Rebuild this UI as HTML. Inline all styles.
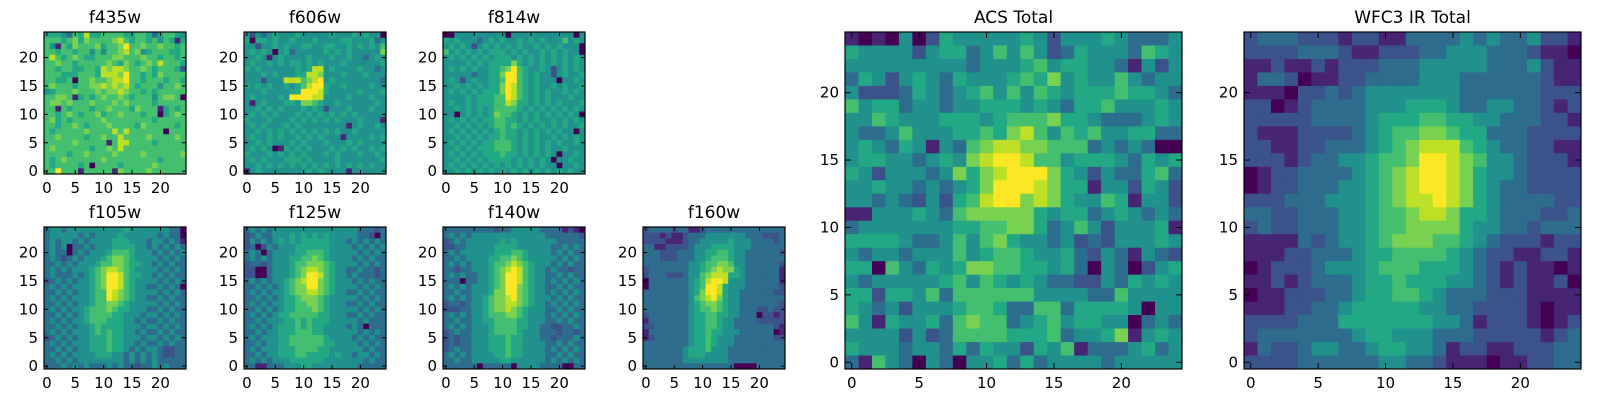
<!DOCTYPE html>
<html><head><meta charset="utf-8">
<style>
html,body{margin:0;padding:0;background:#fff;}
svg{display:block;font-family:"DejaVu Sans","Liberation Sans",sans-serif;}
</style></head>
<body>
<svg id="fig" width="1600" height="400" viewBox="0 0 1600 400" xmlns="http://www.w3.org/2000/svg"></svg>
<script>
// Data: rows listed from top (y=24) to bottom (y=0), each digit = intensity level 0..9
const f435w = [
"5554365855666655665356654","6665675766667865665646515","6416576667566796676676656","6656656646466786745666556",
"6865676556667766676656656","6676656666676576567686665","6656655665878876676566652","6665556665888796656576666",
"6655606676678896656665665","6766656677878786566646676","4566676667677876656566666","6677615656766765666467760",
"6776766676667676666566666","6616566656676665766615656","6656765667566766656605676","6756566666766666666566666",
"6656676566676666576666656","6566666766668686666660666","6676666566766866667666676","6666676666616886666566666",
"6766666656676866666666666","6666566766667666676666667","6567666666766666666656666","6566665606666566666766666",
"6696661666661766667666666"];
const f606w = [
"4243454445444445444545440","5055454454445444455444534","4424454544554455445454546","4545404534444454545444447",
"4454145444454445445443454","4544545455454544454444445","5454444445458845444454434","4445454445588744454445444",
"4442444888678945444444443","5454544545689954454444544","4445444455999854444454445","4544445499998844445444544",
"4145444554776544544444454","4454545444545424445444544","4545454445454545454544444","5444544454545454544454441",
"4545444545444444441454454","4454545454545454544544444","4544545445454544414444545","4454544454544454445454444",
"4545401545454445454544545","5444545454544454544454454","4545444555454444544444445","4454545454545454545454544",
"1454444444454544441444444"];
const f814w = [
"0044444444404444444444404","5454443454544545454446454","4545424545454544545454440","6454545455545454454545440",
"4545454545554545454545454","4444545455557545454545454","4545454455679654454245454","4444434455799654544245445",
"4542454455699654544404454","4454545455798654544545445","4545454555798654545445454","4444545556698654545444544",
"4544545556687554545454445","4454545456666545454545454","4404545457665454545454540","4545454556655454544545454",
"4454545456656545454545445","4545454545655454545454404","4454545455655454544545454","4545454556665454545454454",
"4454545556665454545445444","4545454555655454545404454","4454545455554545454044544","4545454545454545454404454",
"4454545454545454545454544"];
const f105w = [
"3443444444444454444444330","3444443434444544444434330","3434434344445554443443431","3434033434445555443434343",
"3433034344456665444343434","3432343444567765444434343","3343434445667765544343433","3434344456788765444434343",
"3433343456799865544343433","2343434456799865444434343","3434344456799865443343430","3343434456698765444434343",
"3434344456698765443343433","3343434456677654444434343","3434344566676554443343433","3343434566665544434434343",
"3434344566655544343343433","3343434456555544434434343","3434344456565544343343433","2343434455565544434434343",
"3434344455565544343343433","3343434455565543434432233","3434344445554434343432233","3343434444444434343433333",
"3334343433343433233434333"];
const f125w = [
"3434344444444444444433323","2343344454545454444433203","2434345454555554443434343","2302434445555554444343434",
"3430344445566654444434343","3434344455667654444343433","2332344456677765444434343","2200344456788765443343323",
"2200344456799865443433323","3434344567899765444343433","3343434567799765444434343","3434344567788765443343433",
"3343434556777654444434343","3434344556677654443343433","3343434556667654444434343","3434345566666554443343433",
"3343444556565554444434333","3434345556565544443430333","3343445556665544444434343","3434445566666654444343433",
"3343445566666655444434343","3434445556666554444443433","3343445556655554544344343","3434344455555544444443433",
"3311333444554444444433333"];
const f140w = [
"3333333332334444433331210","3434344444444444443333332","2343444444545444444433333","2233444445555444444334343",
"3434444445556654444343433","3343444455667654444434343","3434344456678765444343433","3323344456789865443433233",
"3434334456799865443343433","3330334456799865443434343","3434344456799765443343433","3343344457799765443434343",
"3434344567789765444343433","2332344567788765443434343","2223344567787654443343433","3434344566677654443434343",
"3343344556666554443343433","3434344456666554433223343","2343344456666544433323323","2323344455565544433233343",
"2323344455565544443343433","2343344455565544443434343","3434344445565544443343433","3343344444554444443434343",
"3333330333330444433330033"];
const f160w = [
"2333323311233333333333333","2221211233344444443332223","2222111233444445444333323","3311222234445555444333333",
"3332223334455665443333332","3332223334456665443333333","3333333344566776443333332","2333333344567877543333331",
"2333222344678885543333331","0333333345689984443333331","0333333345699854443333332","3333333345799854433333322",
"3333333346789754433333333","3333333345677654433333332","3333333345667654433322322","2333333345566554433302212",
"1333333345566544333322222","2233333345566544333333321","1333333345565544433333301","1233333345565444333333322",
"3333333345565444333333333","3333333455564443333333333","3333333455544443333333333","3333333444444443333333333",
"3333333333333333000033333"];
const acsTotal = [
"1010402544444542444543334","5444424553464642354443654","4444444443444564554431424","3542454354445657454464344",
"4222354345646465455565543","6455344344555454355644454","4465444555456667554333454","4334644455657864656445533",
"4543541436788776663434300","4554434547899866455543545","5424443475789997542433563","4454434345799987551442542",
"4434324256899787544651442","1144454367777754553454343","3444444455667753464244451","5555433464675443423244454",
"4344344464566544532431432","5506435457766554530430245","4344444564654543322435454","5525546366666644443364444",
"5434244456653366355554044","6415445367663456455440343","4444242366665556344571454","5444344353544254613334534",
"3164304304453534444344444"];
const wfc3Total = [
"2333222122113333434334221","2222333211222334443332110","1121121222333444443334211","1332011223333444333333211",
"1110223234444444333333222","2201233334445554334433212","2222233334555665544333221","2111222234566776553332222",
"2211223334567888654332211","2221233445667998764432221","0122333345678998754432222","0122333445678998754332222",
"2223334445678898754333322","3322333445667887554333223","2322333445667777544332333","1111323445677766543222122",
"1112233345566665432211221","0122234445666555432121101","1121233345565554432121120","0112223345566543332221111",
"1112233455555443322221011","2222333555555544312221012","2333333345544433322222123","1322344334554431221122233",
"2222333333443321110112233"];

const panels = [
  {name:"f435w", data:f435w, x:44, y:32, s:142, big:false},
  {name:"f606w", data:f606w, x:244, y:32, s:142, big:false},
  {name:"f814w", data:f814w, x:443, y:32, s:142, big:false},
  {name:"f105w", data:f105w, x:44, y:227, s:142, big:false},
  {name:"f125w", data:f125w, x:244, y:227, s:142, big:false},
  {name:"f140w", data:f140w, x:443, y:227, s:142, big:false},
  {name:"f160w", data:f160w, x:643, y:227, s:142, big:false},
  {name:"ACS Total", data:acsTotal, x:845, y:32, s:337, big:true},
  {name:"WFC3 IR Total", data:wfc3Total, x:1244, y:32, s:337, big:true}
];
const xTicks = [0,5,10,15,20];
const yTicksSmall = [0,5,10,15,20];
const yTicksBig = [0,5,10,15,20];

// viridis colours for levels 0..9
const vir = ["#440154","#482475","#3b528b","#2e6d8e","#21918c","#22a884","#44bf70","#7ad151","#bddf26","#fde725"];
function cmap(v){ return vir[Math.max(0,Math.min(9,v))]; }
const NS = "http://www.w3.org/2000/svg";
const svg = document.getElementById('fig');
function mk(tag, attrs, parent){
  const e = document.createElementNS(NS, tag);
  for (const k in attrs) e.setAttribute(k, attrs[k]);
  (parent||svg).appendChild(e);
  return e;
}
panels.forEach(p=>{
  const g = mk('g',{});
  const slug = p.name.toLowerCase().replace(/\s+/g,'-');
  
  
  const n = 25;
  const sx = v => p.x + (v + 0.5) / n * p.s;
  const sy = v => p.y + p.s - (v + 0.5) / n * p.s;
  const cw = p.s / n;
  for (let r=0;r<n;r++){
    const row = p.data[r];
    const yv = n-1-r;
    for (let c=0;c<n;c++){
      const v = parseInt(row[c]||'4',10);
      const rc = mk('rect',{x:(sx(c)-cw/2).toFixed(2), y:(sy(yv)-cw/2).toFixed(2), width:(cw+0.4).toFixed(2), height:(cw+0.4).toFixed(2), fill:cmap(v)}, g);
      
      
    }
  }
  const fr = mk('rect',{x:p.x, y:p.y, width:p.s, height:p.s, fill:'none', stroke:'#000', 'stroke-width':1.2}, g);
  
  
  const tl = p.big ? 6 : 4;
  xTicks.forEach(t=>{
    const x = sx(t);
    mk('line',{x1:x,y1:p.y+p.s,x2:x,y2:p.y+p.s-tl,stroke:'#000','stroke-width':1},g);
    mk('line',{x1:x,y1:p.y,x2:x,y2:p.y+tl,stroke:'#000','stroke-width':1},g);
    const tx = mk('text',{x:x, y:p.y+p.s+19, 'font-size':15, 'text-anchor':'middle', fill:'#000'}, g);
    tx.textContent = t;
    
    
  });
  (p.big?yTicksBig:yTicksSmall).forEach(t=>{
    const y = sy(t);
    mk('line',{x1:p.x,y1:y,x2:p.x+tl,y2:y,stroke:'#000','stroke-width':1},g);
    mk('line',{x1:p.x+p.s,y1:y,x2:p.x+p.s-tl,y2:y,stroke:'#000','stroke-width':1},g);
    const ty = mk('text',{x:p.x-6, y:y+5, 'font-size':15, 'text-anchor':'end', fill:'#000'}, g);
    ty.textContent = t;
    
    
  });
  const title = mk('text',{x:p.x+p.s/2, y:p.y-9, 'font-size':17, 'text-anchor':'middle', fill:'#000'}, g);
  title.textContent = p.name;
  
  
});
</script>
</body></html>
